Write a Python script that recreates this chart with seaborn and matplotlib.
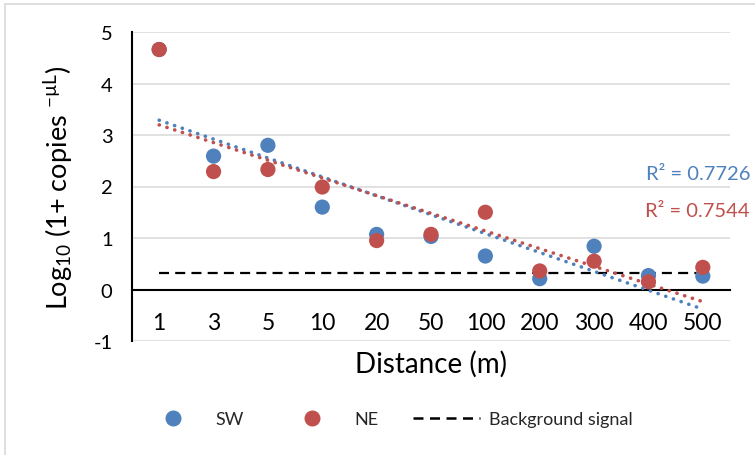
import numpy as np
import pandas as pd
import matplotlib
matplotlib.use("Agg")
import matplotlib.pyplot as plt
from matplotlib.lines import Line2D
import seaborn as sns

# ---- data ----
distances = ["1", "3", "5", "10", "20", "50", "100", "200", "300", "400", "500"]
sw_values = [4.66, 2.59, 2.80, 1.60, 1.07, 1.03, 0.65, 0.21, 0.84, 0.27, 0.26]
ne_values = [4.66, 2.29, 2.33, 1.99, 0.95, 1.07, 1.50, 0.36, 0.55, 0.15, 0.43]
background_signal = 0.32
r2_sw = "R² = 0.7726"
r2_ne = "R² = 0.7544"
y_ticks = [-1, 0, 1, 2, 3, 4, 5]

BLUE = "#4F81BD"
RED = "#C0504D"

sns.set_style("white")
plt.rcParams["font.family"] = ["Lato", "DejaVu Sans"]
plt.rcParams["mathtext.default"] = "regular"

pos = np.arange(1, len(distances) + 1)
df = pd.DataFrame({
    "pos": np.concatenate([pos, pos]),
    "value": sw_values + ne_values,
    "series": ["SW"] * len(pos) + ["NE"] * len(pos),
})

fig = plt.figure(figsize=(7.55, 4.56), dpi=100)
ax = fig.add_axes([132 / 755, 1 - 342 / 456, 598 / 755, 309 / 456])

# grid lines
for yv in y_ticks:
    if yv != 0:
        ax.axhline(yv, color="#D9D9D9", lw=1.1, zorder=0)

sns.scatterplot(data=df, x="pos", y="value", hue="series",
                palette={"SW": BLUE, "NE": RED}, s=120, linewidth=0,
                legend=False, ax=ax, zorder=3)

# trend lines
for vals, col in [(sw_values, BLUE), (ne_values, RED)]:
    sns.regplot(x=pos, y=np.array(vals), scatter=False, ci=None, ax=ax,
                truncate=True,
                line_kws=dict(color=col, lw=2.6, linestyle=(0, (0.05, 2.2)),
                              dash_capstyle="round", zorder=4))

# background signal
ax.plot([pos[0], pos[-1]], [background_signal] * 2, color="black", lw=1.6,
        linestyle=(0, (4.5, 2.8)), zorder=2)

ax.set_xlim(0.5, 11.5)
ax.set_ylim(-1, 5)
ax.set_yticks(y_ticks)
ax.set_yticklabels([str(t) for t in y_ticks])
ax.set_xticks(pos)
ax.set_xticklabels(distances)

for s in ["top", "right"]:
    ax.spines[s].set_visible(False)
ax.spines["left"].set_color("black")
ax.spines["left"].set_linewidth(1.5)
ax.spines["bottom"].set_position(("data", 0))
ax.spines["bottom"].set_color("black")
ax.spines["bottom"].set_linewidth(1.5)

ax.tick_params(axis="x", length=0, pad=16, labelsize=16.5, colors="black")
ax.tick_params(axis="y", length=0, pad=14, labelsize=14.5, colors="black")

ax.set_xlabel("Distance (m)", fontsize=20, color="black")
ax.xaxis.set_label_coords(0.5, -0.03)
ax.set_ylabel("Log$_{10}$ (1+ copies $^{-µL}$)", fontsize=19.5, color="black")
ax.yaxis.set_label_coords(-0.095, 0.5)

# R² labels
fig.text(750 / 755, 1 - 175 / 456, r2_sw, color=BLUE, fontsize=14.5,
         ha="right", va="center")
fig.text(750 / 755, 1 - 212 / 456, r2_ne, color=RED, fontsize=14.5,
         ha="right", va="center")

# legend
handles = [
    Line2D([], [], marker="o", color=BLUE, linestyle="none", markersize=10.5),
    Line2D([], [], marker="o", color=RED, linestyle="none", markersize=10.5),
    Line2D([], [], color="black", lw=1.8, linestyle=(0, (4.0, 2.6))),
]
fig.legend(handles, ["SW", "NE", "Background signal"], ncol=3,
           loc="center left", bbox_to_anchor=(140 / 755, 1 - 420 / 456),
           frameon=False, fontsize=13, handlelength=3.7, handletextpad=0.5,
           columnspacing=1.9, borderpad=0, borderaxespad=0)

# outer chart border
fig.add_artist(Line2D([4.5 / 755, 4.5 / 755], [0, 1 - 4.5 / 456],
                      transform=fig.transFigure, color="#D9D9D9", lw=1.2))
fig.add_artist(Line2D([4.5 / 755, 1], [1 - 4.5 / 456, 1 - 4.5 / 456],
                      transform=fig.transFigure, color="#D9D9D9", lw=1.2))

fig.savefig("out.png", dpi=100)
